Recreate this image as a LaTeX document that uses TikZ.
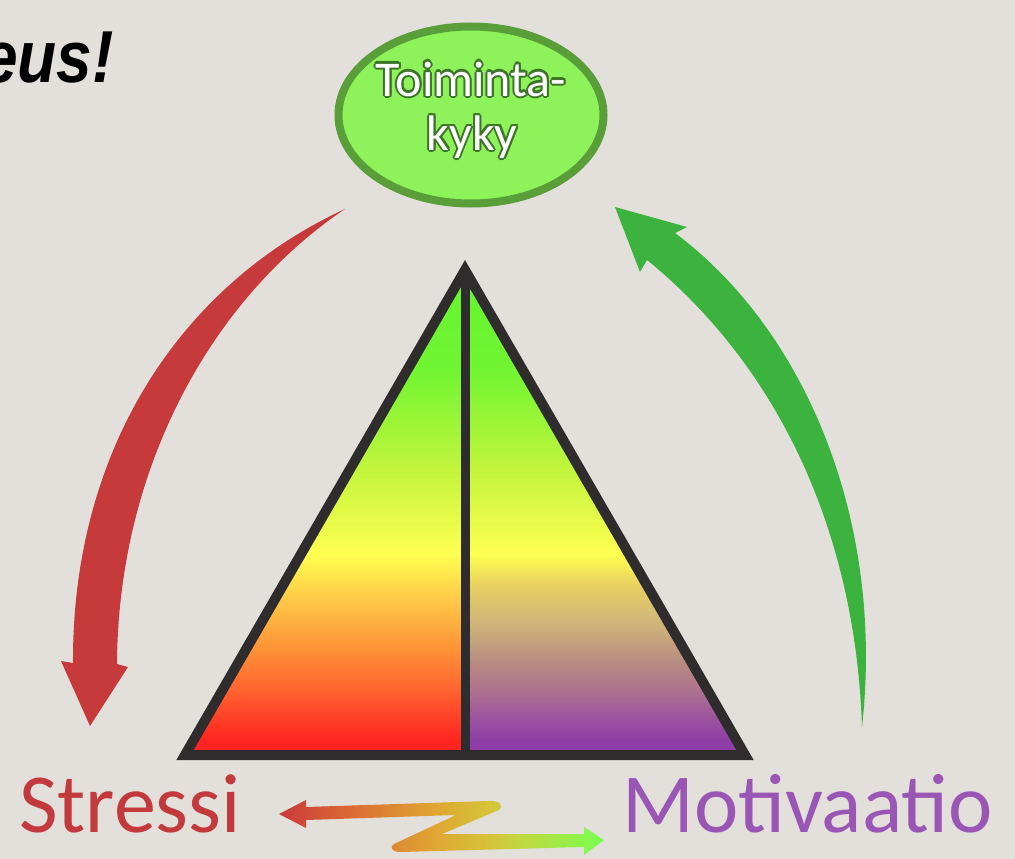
\documentclass[tikz,border=0pt]{standalone}
\usepackage{fontspec}
\usetikzlibrary{shapes.geometric}
\newfontfamily\carlito{Carlito}
\newfontfamily\lsans{Liberation Sans}
\definecolor{bg}{HTML}{E3E0DC}
\definecolor{tkline}{HTML}{5A9E3A}
\definecolor{tkfill}{HTML}{8EF25A}
\definecolor{tkoutl}{HTML}{3E732A}
\definecolor{triline}{HTML}{2E2C2C}
\definecolor{redarr}{HTML}{C63A3B}
\definecolor{greenarr}{HTML}{3CB33E}
\definecolor{strcol}{HTML}{C33A3C}
\definecolor{motcol}{HTML}{9A56B4}
% triangle colours
\definecolor{tG}{HTML}{62F52E}
\definecolor{tG2}{HTML}{72F532}
\definecolor{tYG}{HTML}{C2F53C}
\definecolor{tY}{HTML}{FFFF50}
\definecolor{tOY}{HTML}{FFC848}
\definecolor{tO}{HTML}{FF9838}
\definecolor{tRO}{HTML}{FF6630}
\definecolor{tR}{HTML}{FF2420}
\definecolor{pA}{HTML}{E8D060}
\definecolor{pB}{HTML}{D2B878}
\definecolor{pC}{HTML}{BA9080}
\definecolor{pD}{HTML}{AE7090}
\definecolor{pE}{HTML}{9A50A0}
\definecolor{pF}{HTML}{8E3EA6}
% Z colours
\definecolor{zR}{HTML}{C83A3A}
\definecolor{zRO}{HTML}{DC6A34}
\definecolor{zO}{HTML}{E0A432}
\definecolor{zY}{HTML}{D6C43A}
\definecolor{zYG}{HTML}{C0D840}
\definecolor{zG}{HTML}{78FF50}
\pgfdeclareverticalshading{lefttri}{100bp}{color(0bp)=(tR); color(25bp)=(tR); color(26.5bp)=(tR); color(32bp)=(tRO); color(36.5bp)=(tO); color(41bp)=(tOY); color(45.7bp)=(tY); color(54.5bp)=(tYG); color(64.5bp)=(tG2); color(75bp)=(tG); color(100bp)=(tG)}
\pgfdeclareverticalshading{righttri}{100bp}{color(0bp)=(pF); color(25bp)=(pF); color(26.5bp)=(pF); color(28.5bp)=(pE); color(31.5bp)=(pD); color(35bp)=(pC); color(39bp)=(pB); color(42.5bp)=(pA); color(45.7bp)=(tY); color(54.5bp)=(tYG); color(64.5bp)=(tG2); color(75bp)=(tG); color(100bp)=(tG)}
\pgfdeclarehorizontalshading{zshade}{100bp}{color(0bp)=(zR); color(25bp)=(zR); color(36bp)=(zRO); color(48.3bp)=(zO); color(57.6bp)=(zY); color(62.2bp)=(zYG); color(75bp)=(zG); color(100bp)=(zG)}
\newcommand\olcopy[3]{\rlap{\kern#1\raisebox{#2}{#3}}}
\newcommand\outlinetext[1]{\leavevmode{\color{tkoutl}%
\olcopy{2pt}{0pt}{#1}\olcopy{-2pt}{0pt}{#1}\olcopy{0pt}{2pt}{#1}\olcopy{0pt}{-2pt}{#1}%
\olcopy{1.4pt}{1.4pt}{#1}\olcopy{-1.4pt}{1.4pt}{#1}\olcopy{1.4pt}{-1.4pt}{#1}\olcopy{-1.4pt}{-1.4pt}{#1}}%
{\color{white}#1}}
\begin{document}
\begin{tikzpicture}[x=1pt,y=-1pt,
  lbl/.style={inner sep=0pt, anchor=base west},
  tkline/.style={line width=10pt, draw=triline, line join=miter, miter limit=10}]
\useasboundingbox (0,0) rectangle (1015,859);
\fill[bg] (0,0) rectangle (1015,859);
\clip (0,0) rectangle (1015,859);

% title fragment
\node[lbl, font=\lsans\bfseries\itshape\fontsize{64}{70}\selectfont] (title) at (-18,82) {\scalebox{1}[1.15]{eus!}};

% Toimintakyky ellipse
\node[ellipse, draw=tkline, fill=tkfill, line width=8pt, minimum width=265pt, minimum height=177pt, inner sep=0pt] (tk) at (471,115) {};
\node[inner sep=0pt, anchor=base, font=\carlito\fontsize{50}{54}\selectfont] (tk1) at (471,96) {\outlinetext{Toiminta-}};
\node[inner sep=0pt, anchor=base, font=\carlito\fontsize{50}{54}\selectfont] (tk2) at (472,150) {\outlinetext{kyky}};

% triangle
\coordinate (apex) at (465,270);
\coordinate (bl) at (185,755);
\coordinate (bm) at (465,755);
\coordinate (br) at (745,755);
\shade[shading=lefttri] (apex) -- (bl) -- (bm) -- cycle;
\shade[shading=righttri] (apex) -- (bm) -- (br) -- cycle;
\draw[tkline] (apex) -- (bl) -- (br) -- cycle;
\draw[line width=9pt, draw=triline] (apex) -- (bm);

% labels
\node[lbl, font=\carlito\fontsize{84}{90}\selectfont, text=strcol] (stressi) at (19,832) {Stressi};
\node[lbl, font=\carlito\fontsize{84}{90}\selectfont, text=motcol] (motiv) at (622,832) {Motivaatio};

% red arrow: Toimintakyky -> Stressi
\coordinate (rtail) at (345,209);
\coordinate (rtip) at (90,726);
\fill[redarr] (rtail) .. controls (180,285) and (72,450) .. (73,663) -- (61,661) -- (rtip) -- (128,667) -- (117,664) .. controls (118,470) and (210,300) .. (rtail) -- cycle;

% green arrow: Motivaatio -> Toimintakyky
\coordinate (gtail) at (862,727);
\coordinate (gtip) at (615,207);
\fill[greenarr] (gtail) .. controls (885,520) and (805,330) .. (675,233) -- (687,227) -- (gtip) -- (640,272) -- (647,260) .. controls (770,360) and (855,520) .. (gtail) -- cycle;

% Z arrow between Stressi and Motivaatio
\coordinate (zl) at (279,814);
\coordinate (zr) at (604,840);
\shade[shading=zshade] (zl) -- (306,800) -- (306,807) -- (488,801) .. controls (500,800) and (504,806) .. (499,810) -- (442,834) -- (584,834) -- (584,827) -- (zr) -- (584,855) -- (584,847) -- (400,852) .. controls (392,852) and (389,847) .. (394,844) -- (456,815) -- (306,820) -- (306,828) -- cycle;
\end{tikzpicture}
\end{document}
